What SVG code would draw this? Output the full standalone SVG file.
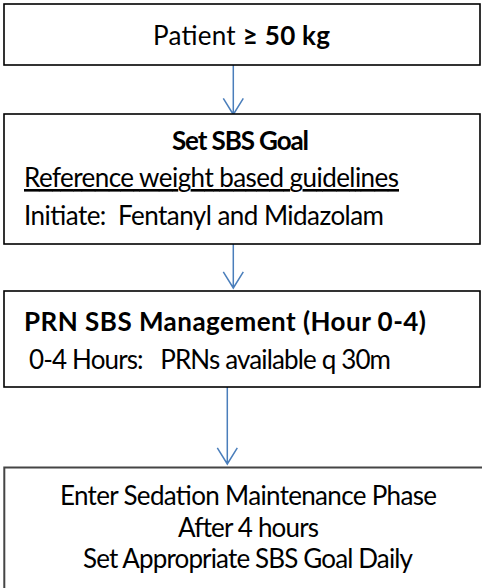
<svg xmlns="http://www.w3.org/2000/svg" width="482" height="588" viewBox="0 0 482 588">
  <defs>
    <style>
      .box { fill: #ffffff; stroke: #000000; stroke-width: 1.6; }
      .box.soft { stroke: #454545; stroke-width: 2; }
      .flow { fill: none; stroke: #4a7ebb; stroke-width: 1.5; }
      text { font-family: Lato, "Open Sans", "Liberation Sans", sans-serif; font-size: 26px; fill: #000000; white-space: pre; }
      .b { font-weight: bold; }
      .c { text-anchor: middle; }
      .u { text-decoration: underline; text-decoration-skip-ink: none; }
    </style>
  </defs>
  <rect width="482" height="588" fill="#ffffff"/>

  <!-- connectors -->
  <g id="connectors">
    <path class="flow" d="M233.3 65 V114.5 M223.3 98.3 L233.3 114.5 L243.3 98.3"/>
    <path class="flow" d="M233.3 244 V288 M223.3 271.8 L233.3 288 L243.3 271.8"/>
    <path class="flow" d="M227.3 387 V464 M217.3 447.8 L227.3 464 L237.3 447.8"/>
  </g>

  <!-- start: patient weight -->
  <g id="node-patient">
    <rect class="box" x="4" y="4" width="476" height="61"/>
    <text class="c" x="241.5" y="44.5" textLength="177">Patient <tspan class="b">≥ 50 kg</tspan></text>
  </g>

  <!-- goal setting -->
  <g id="node-goal">
    <rect class="box" x="4" y="114" width="476" height="130"/>
    <text class="b c" x="240.5" y="150" textLength="137">Set SBS Goal</text>
    <text class="u" x="24" y="187" textLength="375">Reference weight based guidelines</text>
    <text x="24" y="224.5" textLength="360">Initiate:  Fentanyl and Midazolam</text>
  </g>

  <!-- PRN management -->
  <g id="node-prn">
    <rect class="box" x="4" y="291" width="476" height="96"/>
    <text class="b" x="24" y="331" textLength="402">PRN SBS Management (Hour 0-4)</text>
    <text x="29" y="369" textLength="362">0-4 Hours:   PRNs available q 30m</text>
  </g>

  <!-- maintenance phase -->
  <g id="node-maintenance">
    <rect class="box soft" x="4.3" y="467.5" width="520" height="200"/>
    <text class="c" x="248.5" y="505" textLength="377">Enter Sedation Maintenance Phase</text>
    <text class="c" x="248.5" y="537" textLength="141">After 4 hours</text>
    <text class="c" x="248" y="568" textLength="330">Set Appropriate SBS Goal Daily</text>
  </g>
</svg>
